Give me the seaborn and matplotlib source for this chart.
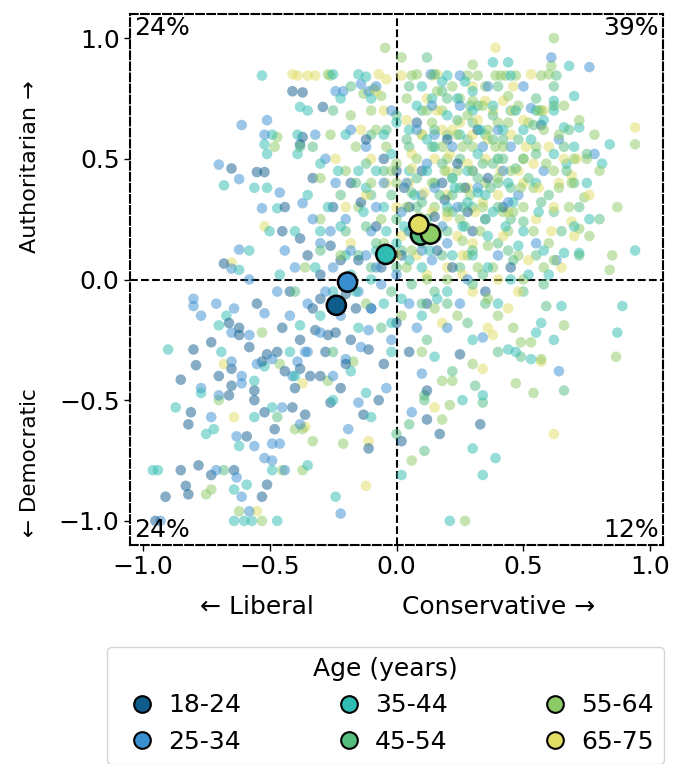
import numpy as np
import pandas as pd
import matplotlib
matplotlib.use("Agg")
import matplotlib.pyplot as plt
from matplotlib.lines import Line2D
import seaborn as sns

# ---------------- data ----------------
age_groups = ["18-24", "25-34", "35-44", "45-54", "55-64", "65-75"]
palette = ["#0e5c8c", "#3a8fd0", "#2fbcb3", "#55bd80", "#8dcb66", "#e1dc62"]

pts_18_24 = [(-0.37,0.775),(-0.29,0.715),(-0.37,0.59),(-0.65,0.46),(-0.55,0.445),(-0.52,0.445),(-0.45,0.20),(-0.38,0.17),
    (-0.68,0.066),(-0.41,0.78),(-0.38,0.56),(-0.80,-0.29),(-0.79,-0.355),(-0.85,-0.415),(-0.81,-0.55),(-0.82,-0.60),
    (-0.85,-0.79),(-0.78,-0.77),(-0.64,-0.79),(-0.73,-0.81),(-0.83,-0.855),(-0.82,-0.89),(-0.91,-0.90),(-0.53,-0.90),
    (-0.51,-0.85),(-0.95,-1.0),(-0.11,-0.70),(-0.13,-0.56),(-0.07,-0.50),(-0.26,-0.51),(-0.59,-0.65),(-0.52,-0.55),
    (-0.41,-0.53),(-0.56,-0.46),(-0.56,-0.50),(-0.66,-0.48),(-0.70,-0.40),(-0.73,-0.26),(-0.65,-0.37),(-0.65,-0.44),
    (-0.62,-0.20),(-0.62,-0.23),(-0.66,-0.18),(-0.55,-0.10),(-0.51,-0.31),(-0.47,-0.30),(-0.53,-0.34),(-0.44,-0.38),
    (-0.38,-0.37),(-0.34,-0.40),(-0.30,-0.40),(-0.38,-0.25),(-0.32,-0.21),(-0.27,-0.23),(-0.24,-0.22),(-0.11,-0.29),
    (0.33,-0.60),(0.17,-0.64),(0.12,-0.58),(0.02,-0.67),(0.12,-0.46),(0.25,-0.31),
    (-0.30,0.02),(-0.20,-0.06),(-0.15,0.08),(-0.10,-0.12),(0.05,0.30),(0.10,0.45),(-0.05,0.50),(0.15,0.26),(0.57,0.64),
    (0.27,0.38),(0.19,0.33),(-0.25,0.30),(-0.18,0.40),(0.02,0.10),(0.22,0.05),(-0.08,0.22),(0.30,0.20),(0.12,-0.10),
    (-0.35,0.10),(-0.42,-0.05),(0.35,-0.05),(0.05,-0.30),(-0.20,-0.35),(0.08,0.65),(0.42,0.30),
    (-0.45,-0.20),(-0.33,-0.12),(-0.28,-0.30),(-0.18,-0.25),(-0.40,-0.45),(-0.48,-0.62),(-0.22,-0.45),(-0.05,-0.35),
    (-0.14,0.32),(0.03,0.38),(0.16,0.12),(0.24,0.48),(-0.06,0.05),(-0.26,0.14),(0.08,0.22),(-0.16,-0.12),(0.18,0.40),
    (0.36,0.42),(-0.33,0.42),(0.00,-0.18),(0.28,0.28),(-0.44,0.30),(-0.58,-0.28),(-0.36,-0.56),(0.45,0.05),
    (-0.22,0.08),(0.00,0.45),(0.20,0.58),(-0.12,0.58),(0.32,0.62),(-0.30,-0.08)]

pts_25_34 = [(-0.51,0.66),(-0.61,0.64),(-0.70,0.476),(-0.62,0.416),(-0.46,0.36),(-0.53,0.295),(-0.37,0.316),(-0.62,0.124),
    (-0.65,0.045),(-0.24,0.78),(-0.21,0.78),(-0.52,0.60),(-0.14,0.81),(-0.11,0.78),(-0.80,-0.08),(-0.80,-0.11),
    (-0.71,-0.10),(-0.77,-0.15),(-0.77,-0.45),(-0.73,-0.57),(-0.93,-1.0),(-0.71,-0.79),(-0.63,-0.82),(-0.61,-0.90),
    (-0.58,-0.96),(-0.49,-0.75),(-0.52,-0.74),(-0.44,-0.79),(-0.22,-0.97),(-0.19,-0.62),(-0.15,-0.51),(-0.63,-0.65),
    (-0.56,-0.69),(-0.49,-0.68),(-0.46,-0.68),(-0.45,-0.53),(-0.61,-0.43),(-0.70,-0.48),(-0.65,-0.34),(-0.61,-0.40),
    (-0.65,-0.22),(-0.58,-0.23),(-0.64,-0.12),(-0.52,-0.14),(-0.49,-0.33),(-0.41,-0.40),(-0.39,-0.34),(-0.35,-0.30),
    (-0.20,-0.33),(-0.11,-0.21),(0.64,-0.38),(0.10,-0.39),(0.34,-0.24),(0.61,0.92),(0.76,0.88),(0.25,0.845),(0.135,0.85),
    (0.64,0.58),(0.78,0.52),(0.63,0.08),(0.53,0.71),
    (-0.30,0.15),(-0.25,0.05),(-0.15,-0.05),(-0.10,0.20),(0.00,0.02),(0.05,-0.10),(-0.35,-0.10),(-0.40,0.05),(-0.20,0.25),
    (0.10,0.35),(0.20,0.15),(0.30,0.45),(-0.05,0.40),(0.15,0.60),(-0.28,0.50),(0.40,0.10),(0.05,0.20),(-0.12,0.55),
    (0.25,-0.10),(-0.02,-0.25),(0.45,0.55),(0.35,0.25),(-0.22,-0.15),(0.08,-0.20),
    (-0.42,-0.15),(-0.30,-0.22),(-0.25,-0.40),(-0.38,-0.60),(-0.55,-0.35),(-0.47,-0.05),(-0.33,0.25),(-0.12,0.10),
    (-0.06,-0.02),(0.02,0.28),(0.12,0.48),(0.22,0.55),(0.18,0.22),(0.32,0.38),(0.08,0.62),(-0.02,0.70),(0.25,0.72),
    (0.40,0.62),(0.48,0.35),(0.55,0.15),(-0.18,0.62),(-0.24,0.40),(-0.08,0.30),(0.14,0.08),(0.28,0.00),(-0.14,-0.28),
    (-0.04,-0.45),(0.06,-0.55),(0.20,-0.20),(-0.32,0.60),(-0.44,0.12),(-0.58,0.00),(0.36,0.80),(0.50,0.80),(-0.08,0.80),
    (0.42,0.45),(0.58,0.45),(0.15,0.38),(-0.28,-0.05),(-0.36,-0.30),
    (-0.18,0.12),(-0.08,0.05),(0.04,0.40),(0.24,0.30),(0.34,0.55),(-0.26,0.20),(0.14,0.72),(0.44,0.32),(-0.10,-0.12),
    (0.10,0.12)]

pts_35_44 = [(-0.53,0.845),(-0.38,0.715),(-0.49,0.60),(-0.52,0.56),(-0.51,0.52),(-0.68,0.39),(-0.56,0.38),(-0.51,0.38),
    (-0.47,0.295),(-0.50,0.20),(-0.62,0.04),(-0.58,0.12),(-0.25,0.85),(-0.15,0.85),(-0.12,0.84),(-0.39,0.60),(-0.39,0.52),
    (-0.90,-0.29),(-0.87,-0.53),(-0.77,-0.47),(-0.72,-0.62),(-0.75,-0.64),(-0.96,-0.79),(-0.94,-0.79),(-0.64,-0.87),
    (-0.59,-0.85),(-0.64,-1.0),(-0.60,-1.0),(-0.57,-1.0),(-0.47,-1.0),(-0.49,-0.79),(-0.35,-0.77),(-0.24,-0.90),
    (-0.10,-0.57),(-0.12,-0.47),(-0.62,-0.69),(-0.56,-0.57),(-0.49,-0.53),(-0.56,-0.42),(-0.69,-0.30),(-0.70,-0.19),
    (-0.67,-0.15),(-0.42,-0.30),(-0.52,-0.36),(-0.38,-0.19),(-0.18,-0.38),
    (0.89,-0.11),(0.87,-0.22),(0.65,-0.11),(0.57,-0.18),(0.55,-0.22),(0.62,-0.25),(0.53,-0.33),(0.47,-0.30),(0.44,-0.29),
    (0.34,-0.48),(0.26,-0.50),(0.30,-0.70),(0.39,-0.74),(0.34,-0.81),(0.21,-1.0),(0.02,-0.81),
    (0.38,0.90),(0.68,0.885),(0.20,0.845),(0.45,0.845),(0.70,0.76),(0.62,0.74),(0.62,0.70),(0.55,0.70),(0.84,0.56),
    (0.81,0.48),(0.72,0.63),(0.66,0.63),(0.67,0.48),(0.76,0.25),(0.94,0.12),(0.72,0.11),(0.66,0.11),(0.44,0.90),
    (0.30,0.78),(0.14,0.75),(0.24,0.75),
    (-0.30,0.20),(-0.20,0.10),(-0.10,0.00),(0.00,0.15),(0.10,0.05),(0.20,0.30),(0.30,0.10),(0.05,0.45),(-0.05,0.30),
    (0.15,0.55),(0.35,0.35),(0.25,0.60),(-0.15,0.45),(0.40,0.50),(0.50,0.20),(0.45,0.00),(0.10,-0.15),(-0.25,-0.05),
    (-0.35,0.35),(0.00,0.65),(0.55,0.40),(0.20,-0.05),(-0.05,-0.10),(0.30,0.70),(-0.20,0.60),(0.12,0.22),(0.28,0.45),
    (-0.08,0.12),
    (-0.32,0.05),(-0.22,0.22),(-0.12,0.38),(-0.02,0.52),(0.07,0.35),(0.16,0.18),(0.26,0.22),(0.36,0.18),(0.46,0.32),
    (0.56,0.28),(0.62,0.52),(0.50,0.62),(0.38,0.72),(0.20,0.68),(0.10,0.80),(-0.10,0.75),(-0.22,0.75),(-0.30,0.48),
    (-0.40,0.20),(-0.46,0.02),(-0.30,-0.15),(-0.15,-0.20),(-0.02,-0.30),(0.15,-0.32),(0.30,-0.25),(0.40,-0.10),
    (0.60,0.02),(0.70,0.22),(0.75,0.40),(0.05,0.08),(-0.08,0.45),(0.22,0.42),(0.32,0.52),(0.44,0.40),(0.12,0.58),
    (0.02,-0.08),(-0.18,0.02),(-0.40,-0.40),(-0.25,-0.50),(-0.05,0.60),(0.28,0.32),(0.48,0.14),(0.18,0.82),(0.58,0.66),
    (-0.35,0.70),(0.38,0.28),
    (0.03,0.22),(0.13,0.12),(0.23,0.38),(0.33,0.62),(0.43,0.22),(0.53,0.58),(-0.13,0.28),(-0.23,0.45),(0.08,0.72),
    (0.27,0.82),(0.47,0.70),(0.58,0.12),(0.16,-0.08),(-0.04,0.20),(0.36,0.05),(-0.27,0.30),(0.70,0.55),(0.12,0.45),
    (0.42,0.62),(0.22,0.10),(-0.16,-0.05),(0.32,0.36),(0.05,0.62),(-0.02,-0.18),(0.52,0.02)]

pts_45_54 = [(-0.33,0.55),(-0.47,-0.57),(-0.68,-0.79),(0.59,-0.11),(0.49,-0.32),(0.31,-0.44),(0.34,-0.51),(0.11,-0.48),
    (0.11,-0.50),(0.11,-0.71),(0.00,-0.64),(0.05,-0.60),(0.66,-0.46),(0.63,0.845),(0.29,0.72),(0.20,0.75),(0.57,0.70),
    (0.00,0.25),(0.10,0.15),(0.20,0.20),(0.30,0.30),(0.40,0.40),(0.15,0.40),(0.05,0.55),(0.25,0.50),(0.35,0.60),
    (0.45,0.25),(0.50,0.50),(0.55,0.10),(0.60,0.35),(-0.10,0.35),(-0.20,0.20),(0.10,0.70),(0.25,0.05),(0.15,-0.05),
    (0.35,-0.10),(0.00,0.05),(-0.10,0.60),(0.40,0.15),(0.30,0.65),(0.20,0.60),(-0.05,0.45),(0.45,0.70),(0.65,0.20),
    (0.08,0.30),(0.22,0.35),(0.38,0.48),(-0.15,0.10),(0.12,-0.25),(0.28,-0.18),(0.50,-0.05),(0.05,0.80),(-0.25,0.70),
    (0.70,0.40),(0.18,0.10),(0.42,0.58),(-0.02,-0.05),
    (0.02,0.12),(0.12,0.25),(0.22,0.28),(0.32,0.42),(0.42,0.50),(0.52,0.42),(0.62,0.28),(0.72,0.30),(0.66,0.55),
    (0.55,0.75),(0.40,0.80),(0.28,0.58),(0.18,0.48),(0.08,0.42),(-0.02,0.35),(-0.12,0.48),(-0.22,0.35),(-0.30,0.12),
    (-0.12,0.22),(0.06,-0.02),(0.20,-0.10),(0.34,0.02),(0.46,0.08),(0.58,-0.02),(0.72,0.10),(0.80,0.25),(0.62,0.80),
    (0.15,0.85),(-0.18,0.80),(-0.38,0.55),(0.00,0.68),(0.25,0.38),(0.35,0.25),(0.45,0.38),(0.15,0.62),(0.32,0.72),
    (0.48,0.58),(-0.06,-0.20),(0.22,-0.38),(0.40,-0.30),(-0.25,-0.30),(-0.40,-0.05),(0.10,0.32),(0.55,0.52),(0.04,0.58),
    (0.30,0.12),(0.38,0.58),(0.68,0.62),(-0.10,0.05),(0.12,0.92),
    (0.07,0.18),(0.17,0.35),(0.27,0.22),(0.37,0.38),(0.47,0.46),(0.57,0.32),(0.67,0.45),(0.24,0.66),(0.14,0.55),
    (-0.04,0.62),(0.34,0.48),(0.44,0.12),(0.54,0.64),(0.62,0.72),(0.26,0.30),(0.06,0.36),(-0.16,0.40),(0.18,0.78),
    (0.38,0.68),(0.50,0.24),(0.30,-0.02),(0.10,-0.10),(0.75,0.52),(-0.08,0.15),(0.40,0.30)]

pts_55_64 = [(-0.47,0.59),(-0.27,0.85),(-0.26,0.845),(-0.48,0.55),(-0.13,0.77),(-0.09,0.79),(-0.06,0.76),(-0.045,0.96),
    (-0.75,-0.89),(-0.73,-0.87),(-0.62,-0.96),(-0.53,-1.0),(-0.45,-0.79),(-0.37,-0.79),(-0.21,-0.68),(-0.40,-0.62),
    (-0.37,-0.62),(-0.33,-0.67),(-0.70,-0.50),(-0.46,-0.35),(-0.53,-0.22),(-0.27,-0.42),(-0.17,-0.34),
    (0.865,-0.32),(0.66,-0.19),(0.57,-0.33),(0.54,-0.47),(0.49,-0.26),(0.53,-0.26),(0.47,-0.43),(0.18,-0.58),(0.21,-0.52),
    (0.06,-0.75),(0.18,-0.42),(0.22,-0.42),(0.27,-1.0),
    (0.62,1.0),(0.02,0.92),(0.61,0.885),(0.06,0.845),(0.28,0.845),(0.32,0.845),(0.39,0.845),(0.41,0.845),(0.43,0.845),
    (0.57,0.845),(0.94,0.56),(0.75,0.50),(0.87,0.30),(0.74,0.34),(0.72,0.21),(0.85,0.10),(0.84,0.04),(0.30,0.89),
    (0.47,0.845),
    (0.05,0.20),(0.15,0.30),(0.25,0.25),(0.35,0.40),(0.45,0.45),(0.20,0.50),(0.10,0.60),(0.30,0.55),(0.40,0.65),
    (0.50,0.30),(0.55,0.55),(0.60,0.15),(-0.05,0.15),(-0.15,0.30),(0.00,0.40),(0.18,0.70),(0.28,0.10),(0.38,0.05),
    (0.12,0.00),(0.48,0.10),(-0.20,0.45),(0.25,0.75),(0.62,0.45),(0.08,0.50),(0.33,0.20),(0.42,0.28),(0.52,0.65),
    (-0.08,0.62),(0.15,-0.12),(0.40,-0.15),(0.22,0.42),(0.68,0.30),(-0.30,0.25),(0.02,-0.15),(0.35,0.80),
    (0.04,0.30),(0.14,0.40),(0.24,0.45),(0.34,0.30),(0.44,0.20),(0.54,0.38),(0.64,0.38),(0.58,0.62),(0.48,0.72),
    (0.36,0.62),(0.26,0.55),(0.16,0.20),(0.06,0.12),(-0.06,0.25),(-0.16,0.55),(-0.26,0.60),(-0.10,0.70),(0.04,0.75),
    (0.22,0.80),(0.44,0.76),(0.66,0.72),(0.78,0.60),(0.80,0.45),(0.76,0.18),(0.62,0.08),(0.50,0.00),(0.36,-0.08),
    (0.24,-0.15),(0.10,-0.30),(0.30,-0.35),(0.46,-0.20),(0.18,0.55),(0.30,0.45),(0.40,0.42),(0.50,0.50),(0.12,0.70),
    (-0.04,0.55),(-0.22,0.10),(-0.36,0.05),(-0.12,-0.10),(0.00,0.48),(0.28,0.68),(0.42,0.55),(0.54,0.20),(0.70,0.50),
    (0.20,0.28),(0.32,0.05),(-0.30,0.42),(0.08,0.85),(0.60,0.85),
    (0.09,0.26),(0.19,0.45),(0.29,0.35),(0.39,0.55),(0.49,0.38),(0.59,0.48),(0.69,0.40),(0.34,0.72),(0.24,0.60),
    (0.14,0.65),(-0.02,0.45),(0.44,0.65),(0.56,0.70),(0.26,0.16),(0.46,0.28),(0.04,0.05),(-0.10,0.40),(0.16,0.78),
    (0.36,0.14),(0.64,0.60),(0.72,0.66),(0.58,0.05),(0.20,0.00),(-0.18,0.68),(0.30,0.74)]

pts_65_75 = [(-0.41,0.85),(-0.39,0.845),(-0.35,0.845),(-0.32,0.845),(-0.52,0.22),(-0.65,0.07),(-0.07,0.85),(-0.04,0.83),
    (-0.64,-0.57),(-0.68,-0.35),(-0.55,-0.96),(-0.36,-0.61),(-0.37,-0.43),(-0.12,-0.855),(-0.11,-0.67),
    (0.44,-0.12),(0.38,-0.23),(0.34,-0.37),(0.62,-0.64),(0.57,-0.34),(0.15,-0.53),
    (0.39,0.96),(0.02,0.845),(0.14,0.845),(0.16,0.85),(0.53,0.85),(0.35,0.74),(0.42,0.74),(0.94,0.63),(0.71,0.50),
    (0.69,0.43),(0.69,0.24),
    (0.10,0.25),(0.20,0.35),(0.30,0.15),(0.40,0.35),(0.05,0.40),(0.15,0.50),(0.25,0.65),(0.35,0.50),(0.50,0.40),
    (0.00,0.30),(-0.10,0.50),(0.45,0.60),(0.55,0.25),(0.20,0.05),(0.30,-0.05),(-0.05,0.70),(0.12,0.75),(0.60,0.55),
    (0.08,0.10),(0.38,0.70),(0.28,0.38),(-0.18,0.15),(0.48,-0.05),(0.18,0.62),(0.65,0.05),
    (0.14,0.28),(0.24,0.18),(0.34,0.32),(0.44,0.28),(0.54,0.48),(0.64,0.40),(0.58,0.70),(0.46,0.80),(0.30,0.80),
    (0.20,0.45),(0.06,0.52),(-0.04,0.40),(-0.14,0.62),(-0.24,0.50),(0.02,0.18),(0.12,0.02),(0.26,0.10),(0.40,0.00),
    (0.52,0.08),(0.70,0.18),(0.76,0.35),(0.30,0.60),(0.40,0.50),(0.22,0.62),(0.10,0.60),(-0.08,0.78),(0.50,0.66),
    (0.18,-0.18),(0.36,-0.20),(-0.20,0.30),(0.04,0.66),(0.62,0.30),(0.28,0.48),(0.48,0.45),(0.00,0.10),
    (0.11,0.36),(0.21,0.52),(0.31,0.28),(0.41,0.45),(0.51,0.55),(0.61,0.20),(0.16,0.70),(0.36,0.58),(0.46,0.70),
    (0.26,0.02),(0.06,0.46),(-0.12,0.35),(0.56,0.38),(0.32,0.66),(0.42,0.18),(0.66,0.50),(0.20,0.26)]

# group means (large outlined markers)
mean_x = [-0.237, -0.193, -0.042, 0.095, 0.134, 0.088]
mean_y = [-0.107, -0.011, 0.104, 0.184, 0.188, 0.228]

quad_labels = ["24%", "39%", "24%", "12%"]  # TL, TR, BL, BR

# ---------------- build frame ----------------
groups_pts = [pts_18_24, pts_25_34, pts_35_44, pts_45_54, pts_55_64, pts_65_75]
rows = []
for g, pts in zip(age_groups, groups_pts):
    for i, (x, y) in enumerate(pts):
        rows.append({"x": x, "y": y, "age": g, "rank": i})
df = pd.DataFrame(rows).sort_values("rank", kind="stable").reset_index(drop=True)
means = pd.DataFrame({"x": mean_x, "y": mean_y, "age": age_groups})

# ---------------- figure ----------------
plt.rcParams["font.family"] = ["DejaVu Sans"]
fig = plt.figure(figsize=(6.84, 7.64), dpi=100)
ax = fig.add_axes([130/684, 1-545/764, 533/684, 531/764])

ax.axhline(0, color="black", ls="--", lw=1.5, zorder=0.5)
ax.axvline(0, color="black", ls="--", lw=1.5, zorder=0.5)

sns.scatterplot(data=df, x="x", y="y", hue="age", hue_order=age_groups, palette=palette,
                alpha=0.5, s=58, linewidth=0, legend=False, ax=ax, zorder=2)
sns.scatterplot(data=means, x="x", y="y", hue="age", hue_order=age_groups, palette=palette,
                s=190, edgecolor="black", linewidth=1.8, legend=False, ax=ax, zorder=4)

ax.set_xlim(-1.05, 1.05)
ax.set_ylim(-1.1, 1.1)
ax.set_xticks([-1.0, -0.5, 0.0, 0.5, 1.0])
ax.set_yticks([-1.0, -0.5, 0.0, 0.5, 1.0])
ax.tick_params(labelsize=18, length=4, width=1.0)
ax.set_xlabel("")
ax.set_ylabel("")
for sp in ax.spines.values():
    sp.set_linestyle("--")
    sp.set_linewidth(1.5)

ax.text(0.008, 0.997, quad_labels[0], transform=ax.transAxes, ha="left", va="top", fontsize=18)
ax.text(0.992, 0.997, quad_labels[1], transform=ax.transAxes, ha="right", va="top", fontsize=18)
ax.text(0.008, 0.006, quad_labels[2], transform=ax.transAxes, ha="left", va="bottom", fontsize=18)
ax.text(0.992, 0.006, quad_labels[3], transform=ax.transAxes, ha="right", va="bottom", fontsize=18)

fig.text(257/684, 1-607/764, "← Liberal", ha="center", va="center", fontsize=18)
fig.text(499/684, 1-607/764, "Conservative →", ha="center", va="center", fontsize=18)
fig.text(30/684, 1-167/764, "Authoritarian →", ha="center", va="center", rotation=90, fontsize=16)
fig.text(30/684, 1-463/764, "← Democratic", ha="center", va="center", rotation=90, fontsize=15.5)

handles = [Line2D([0], [0], marker="o", ls="none", markersize=12, markerfacecolor=c,
                  markeredgecolor="black", markeredgewidth=1.5) for c in palette]
fig.legend(handles, age_groups, title="Age (years)", ncol=3, loc="upper center",
           bbox_to_anchor=(385.5/684, 1-647/764), borderaxespad=0, fontsize=18, title_fontsize=18,
           handlelength=2.0, handletextpad=0.05, columnspacing=3.3, frameon=True)

fig.savefig("out.png", dpi=100)
